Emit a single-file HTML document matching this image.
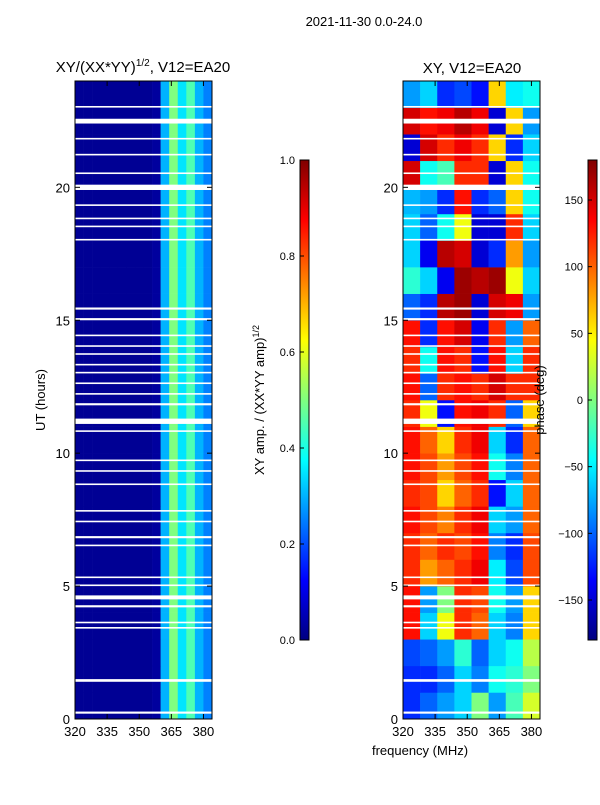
<!DOCTYPE html>
<html><head><meta charset="utf-8"><style>
body{margin:0;background:#fff;}
svg text{font-family:"Liberation Sans",sans-serif;fill:#000;}
</style></head><body>
<svg id="fig" width="600" height="800" viewBox="0 0 600 800" xmlns="http://www.w3.org/2000/svg">
<defs>
<linearGradient id="jet" x1="0" y1="1" x2="0" y2="0">
<stop offset="0" stop-color="#000080"/><stop offset="0.125" stop-color="#0000ff"/><stop offset="0.375" stop-color="#00ffff"/><stop offset="0.625" stop-color="#ffff00"/><stop offset="0.875" stop-color="#ff0000"/><stop offset="1" stop-color="#800000"/>
</linearGradient>
</defs>
<text x="364" y="26" font-size="13" text-anchor="middle">2021-11-30 0.0-24.0</text>
<text x="143" y="72" font-size="15" text-anchor="middle">XY/(XX*YY)<tspan font-size="10" dy="-6">1/2</tspan><tspan dy="6">, V12=EA20</tspan></text>
<text x="472" y="73" font-size="15" text-anchor="middle">XY, V12=EA20</text>
<text transform="translate(45,400) rotate(-90)" font-size="13" text-anchor="middle">UT (hours)</text>
<text x="420" y="755" font-size="13" text-anchor="middle">frequency (MHz)</text>
<g id="left"></g>
<g id="right"></g>
<rect x="300" y="160" width="9" height="480" fill="url(#jet)" stroke="#000" stroke-width="1"/>
<rect x="588" y="160" width="9" height="480" fill="url(#jet)" stroke="#000" stroke-width="1"/>
<text transform="translate(264,400) rotate(-90)" font-size="13" text-anchor="middle">XY amp. / (XX*YY amp)<tspan font-size="9" dy="-5">1/2</tspan></text>
<text transform="translate(544,400) rotate(-90)" font-size="13" text-anchor="middle">phase (deg)</text>
<g id="axes"></g>
</svg>
<script>
const hours=[0,1,2,3,4,5,6,7,8,9,10,11,12,13,14,15,16,17,18,19,20,21,22,23];
const ampFreqs=[320,324,328,332,336,340,344,348,352,356,360,364,368,372,376,380];
const ampCols=[0.02,0.02,0.02,0.02,0.02,0.02,0.02,0.02,0.02,0.03,0.3,0.5,0.35,0.45,0.3,0.25];
const phaseFreqs=[320,328,336,344,352,360,368,376];
const phaseGrid=[
[-120,-100,-80,-60,0,-80,-20,30],
[-120,-120,-100,-60,-90,-40,-30,0],
[-110,-100,-80,-30,-100,-60,-40,20],
[130,-60,40,120,100,-60,-90,60],
[130,-80,0,120,110,-40,-80,60],
[120,80,100,120,140,-50,-110,110],
[120,100,120,110,130,-90,-120,110],
[130,110,90,120,140,-60,-80,100],
[120,110,60,100,120,-130,-60,100],
[130,110,80,110,130,-40,-90,100],
[130,100,60,120,140,-60,-120,100],
[120,40,-130,130,140,120,-100,60],
[130,-100,120,130,120,150,120,120],
[120,-40,130,120,-130,130,-60,120],
[130,-120,130,150,-140,120,-80,100],
[-100,-120,160,170,-150,150,140,-80],
[-30,-60,-140,170,160,170,40,-60],
[-60,-140,160,150,-150,-120,80,-80],
[-60,-100,-40,40,-150,-150,120,-60],
[-70,-80,-120,130,-120,-100,60,-40],
[150,-40,-20,120,120,-150,60,-40],
[-150,150,120,140,120,60,-120,-60],
[150,130,140,160,140,-150,60,-80],
[-80,-60,-120,-110,-130,60,-50,-40]];
const gapStart=[0.2,1.4,3.4,3.6,4.2,4.5,5.0,5.3,6.5,6.8,7.4,7.8,8.8,9.3,9.7,10.8,11.1,11.8,12.2,12.6,13.0,13.3,13.7,14.0,14.4,15.0,15.4,18.0,18.5,18.8,19.3,19.9,20.5,21.2,21.8,22.4,23.0];
const gapWidth=[0.08,0.1,0.06,0.06,0.08,0.15,0.06,0.06,0.06,0.08,0.06,0.06,0.06,0.06,0.06,0.06,0.2,0.08,0.06,0.06,0.06,0.06,0.06,0.06,0.06,0.08,0.08,0.06,0.06,0.06,0.06,0.2,0.06,0.06,0.06,0.18,0.06];
const ampTicks=[0,0.2,0.4,0.6,0.8,1.0];
const phaseTicks=[-150,-100,-50,0,50,100,150];
const xTicks=[320,335,350,365,380];
const yTicks=[0,5,10,15,20];
const NS="http://www.w3.org/2000/svg";
const Y0=719,Y1=81;
function yS(h){return Y0-(h/24)*(Y0-Y1);}
function xL(f){return 75+(f-320)/64*137;}
function xR(f){return 403+(f-320)/64*137;}
function jet(v){v=Math.max(0,Math.min(1,v));
 const r=Math.max(0,Math.min(1,1.5-Math.abs(4*v-3))),g=Math.max(0,Math.min(1,1.5-Math.abs(4*v-2))),b=Math.max(0,Math.min(1,1.5-Math.abs(4*v-1)));
 return `rgb(${Math.round(r*255)},${Math.round(g*255)},${Math.round(b*255)})`;}
function mk(tag,attrs,parent){const e=document.createElementNS(NS,tag);for(const k in attrs)e.setAttribute(k,attrs[k]);parent.appendChild(e);return e;}
const L=document.getElementById('left'),R=document.getElementById('right'),A=document.getElementById('axes');
hours.forEach((h,i)=>{
 ampFreqs.forEach((f,j)=>{
  const x0=xL(f),x1=xL(j<ampFreqs.length-1?ampFreqs[j+1]:384);
  const r=mk('rect',{x:x0,y:yS(h+1),width:x1-x0+0.3,height:yS(h)-yS(h+1)+0.3,fill:jet(ampCols[j])},L);
  
  
 });
 phaseFreqs.forEach((f,j)=>{
  const x0=xR(f),x1=xR(j<phaseFreqs.length-1?phaseFreqs[j+1]:384);
  const r=mk('rect',{x:x0,y:yS(h+1),width:x1-x0+0.3,height:yS(h)-yS(h+1)+0.3,fill:jet((phaseGrid[i][j]+180)/360)},R);
  
  
 });
});
gapStart.forEach((g,i)=>{
 [[75,L],[403,R]].forEach(([x,p])=>{
  const r=mk('rect',{x:x,y:yS(g+gapWidth[i]),width:137,height:Math.max(1.5,yS(g)-yS(g+gapWidth[i])),fill:'#fff'},p);
  
  
 });
});
[75,403].forEach((x,k)=>{
 const fr=mk('rect',{x:x,y:Y1,width:137,height:Y0-Y1,fill:'none',stroke:'#000','stroke-width':1},A);
 
 
 const xs=k?xR:xL;
 xTicks.forEach(t=>{
  mk('line',{x1:xs(t),x2:xs(t),y1:Y0,y2:Y0-5,stroke:'#000'},A);
  mk('line',{x1:xs(t),x2:xs(t),y1:Y1,y2:Y1+5,stroke:'#000'},A);
  const tx=mk('text',{x:xs(t),y:736,'font-size':13,'text-anchor':'middle'},A);tx.textContent=t;
  
  
 });
 yTicks.forEach(t=>{
  mk('line',{x1:x,x2:x+5,y1:yS(t),y2:yS(t),stroke:'#000'},A);
  mk('line',{x1:x+137,x2:x+132,y1:yS(t),y2:yS(t),stroke:'#000'},A);
  const tx=mk('text',{x:x-5,y:yS(t)+5,'font-size':13,'text-anchor':'end'},A);tx.textContent=t;
  
  
 });
});
ampTicks.forEach(t=>{const y=640-t*480;
 mk('line',{x1:300,x2:304,y1:y,y2:y,stroke:'#000'},A);
 const tx=mk('text',{x:295,y:y+4,'font-size':11,'text-anchor':'end'},A);tx.textContent=t.toFixed(1);
 
 
});
phaseTicks.forEach(t=>{const y=640-(t+180)/360*480;
 mk('line',{x1:588,x2:592,y1:y,y2:y,stroke:'#000'},A);
 const tx=mk('text',{x:583,y:y+4,'font-size':11,'text-anchor':'end'},A);tx.textContent=t<0?'\u2212'+(-t):t;
 
 
});
</script>
</body></html>
